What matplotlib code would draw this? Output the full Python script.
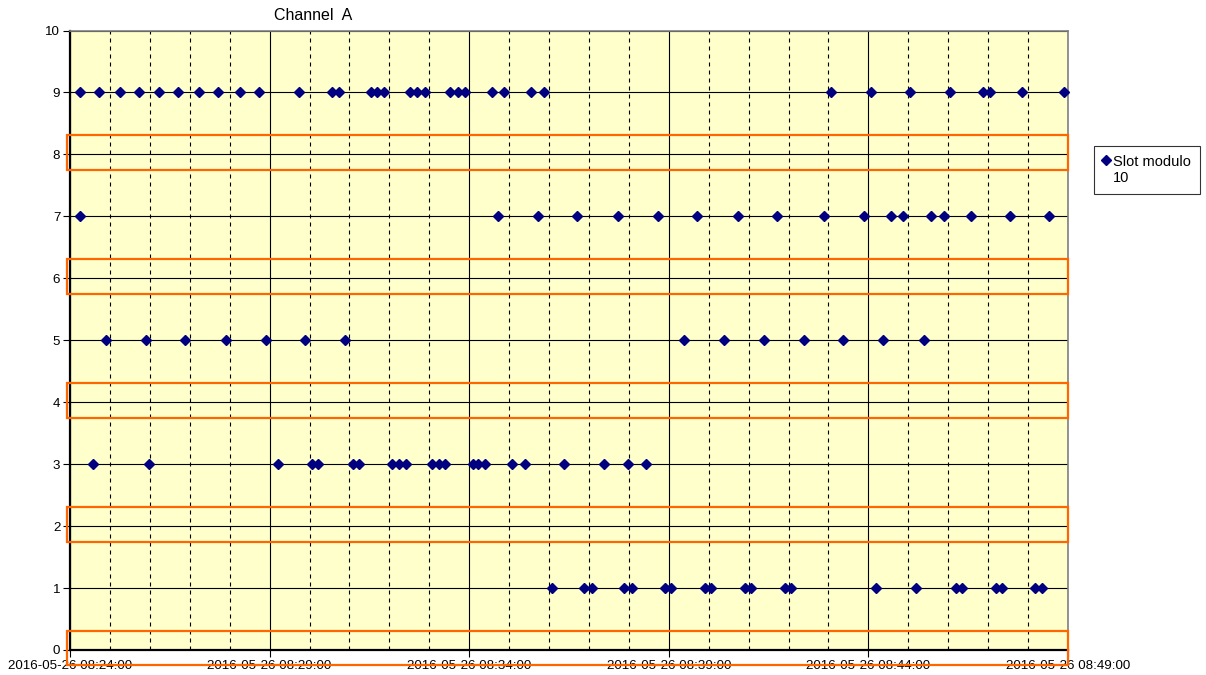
import pandas as pd
import matplotlib
matplotlib.use("Agg")
import matplotlib.pyplot as plt
import matplotlib.dates as mdates
from matplotlib.patches import Rectangle
from matplotlib.legend_handler import HandlerLine2D

# slot times (2016-05-26), one list per slot value
day = "2016-05-26 "
times_9 = ["08:24:15", "08:24:44", "08:25:15", "08:25:44", "08:26:14", "08:26:43",
           "08:27:14", "08:27:43", "08:28:16", "08:28:44", "08:29:44", "08:30:34",
           "08:30:44", "08:31:32", "08:31:42", "08:31:52", "08:32:31", "08:32:42",
           "08:32:53", "08:33:31", "08:33:43", "08:33:53", "08:34:35", "08:34:52",
           "08:35:33", "08:35:52", "08:43:04", "08:44:04", "08:45:02", "08:46:02",
           "08:46:52", "08:47:03", "08:47:51", "08:48:54"]
times_7 = ["08:24:15", "08:34:44", "08:35:44", "08:36:42", "08:37:43", "08:38:44",
           "08:39:43", "08:40:44", "08:41:43", "08:42:54", "08:43:53", "08:44:34",
           "08:44:52", "08:45:34", "08:45:54", "08:46:34", "08:47:33", "08:48:32"]
times_5 = ["08:24:54", "08:25:54", "08:26:53", "08:27:54", "08:28:55", "08:29:53",
           "08:30:53", "08:39:23", "08:40:23", "08:41:23", "08:42:23", "08:43:22",
           "08:44:22", "08:45:24"]
times_3 = ["08:24:34", "08:25:58", "08:29:13", "08:30:04", "08:30:13", "08:31:05",
           "08:31:15", "08:32:04", "08:32:14", "08:32:25", "08:33:04", "08:33:14",
           "08:33:24", "08:34:05", "08:34:13", "08:34:23", "08:35:04", "08:35:24",
           "08:36:23", "08:37:23", "08:37:58", "08:38:25"]
times_1 = ["08:36:04", "08:36:53", "08:37:04", "08:37:53", "08:38:04", "08:38:55",
           "08:39:04", "08:39:55", "08:40:04", "08:40:55", "08:41:04", "08:41:55",
           "08:42:04", "08:44:11", "08:45:11", "08:46:11", "08:46:20", "08:47:12",
           "08:47:21", "08:48:10", "08:48:21"]
empty_slots = [0, 2, 4, 6, 8]
x_start = "08:24:00"
x_end = "08:49:00"

times = []
slots = []
for val, lst in [(9, times_9), (7, times_7), (5, times_5), (3, times_3), (1, times_1)]:
    times += [pd.Timestamp(day + t) for t in lst]
    slots += [val] * len(lst)


class FirstLineHandler(HandlerLine2D):
    # put the marker next to the first line of a two-line label
    def create_artists(self, legend, orig_handle, xdescent, ydescent, width,
                       height, fontsize, trans):
        arts = super().create_artists(legend, orig_handle, xdescent, ydescent,
                                      width, height, fontsize, trans)
        for a in arts:
            a.set_ydata([y + fontsize * 0.68 for y in a.get_ydata()])
        return arts


plt.rcParams["font.family"] = ["Liberation Sans", "DejaVu Sans"]

fig = plt.figure(figsize=(12.06, 6.75), dpi=100)
ax = fig.add_axes([70 / 1206, 1 - 650 / 675, 998 / 1206, 619.5 / 675])
ax.set_facecolor("#FFFFCC")

line, = ax.plot(times, slots, linestyle="none", marker="D", markersize=4.8,
                color="#000080", label="Slot modulo\n10", zorder=5, clip_on=False)

ax.set_xlim(pd.Timestamp(day + x_start), pd.Timestamp(day + x_end))
ax.set_ylim(0, 10)
ax.set_yticks(range(0, 11))

ax.xaxis.set_major_locator(mdates.MinuteLocator(byminute=range(4, 60, 5)))
ax.xaxis.set_minor_locator(mdates.MinuteLocator())
ax.xaxis.set_major_formatter(mdates.DateFormatter("%Y-%m-%d %H:%M:%S"))

ax.grid(True, which="major", axis="both", color="black", linewidth=0.8, zorder=1)
ax.grid(True, which="minor", axis="x", color="black", linewidth=0.8,
        linestyle=(0, (3.6, 3.6)), zorder=1)
ax.set_axisbelow(True)

ax.tick_params(axis="both", which="major", direction="out", length=5, width=0.8,
               labelsize=9.6, colors="black", pad=2)
ax.tick_params(axis="x", which="minor", length=0)

for side in ["left", "bottom"]:
    ax.spines[side].set_color("black")
    ax.spines[side].set_linewidth(1.6)
for side in ["right", "top"]:
    ax.spines[side].set_color("#808080")
    ax.spines[side].set_linewidth(1.2)

# orange highlight boxes on the empty slot levels
trans = ax.get_yaxis_transform()
for s in empty_slots:
    ax.add_patch(Rectangle((-0.003, s - 0.25), 1.003, 0.56, transform=trans,
                           fill=False, edgecolor="#FF6600", linewidth=1.6,
                           clip_on=False, zorder=4))

fig.text(313 / 1206, 1 - 15 / 675, "Channel  A", ha="center", va="center",
         fontsize=11.5)

leg = ax.legend(handles=[line], handler_map={line: FirstLineHandler()},
                loc="upper left", bbox_to_anchor=(1094 / 1206, 1 - 146 / 675),
                bbox_transform=fig.transFigure, frameon=True, fancybox=False,
                fontsize=10.5, handlelength=0.45, handletextpad=0.25,
                borderpad=0.6, borderaxespad=0)
leg.get_frame().set_edgecolor("black")
leg.get_frame().set_linewidth(0.8)

fig.savefig("out.png", dpi=100)
